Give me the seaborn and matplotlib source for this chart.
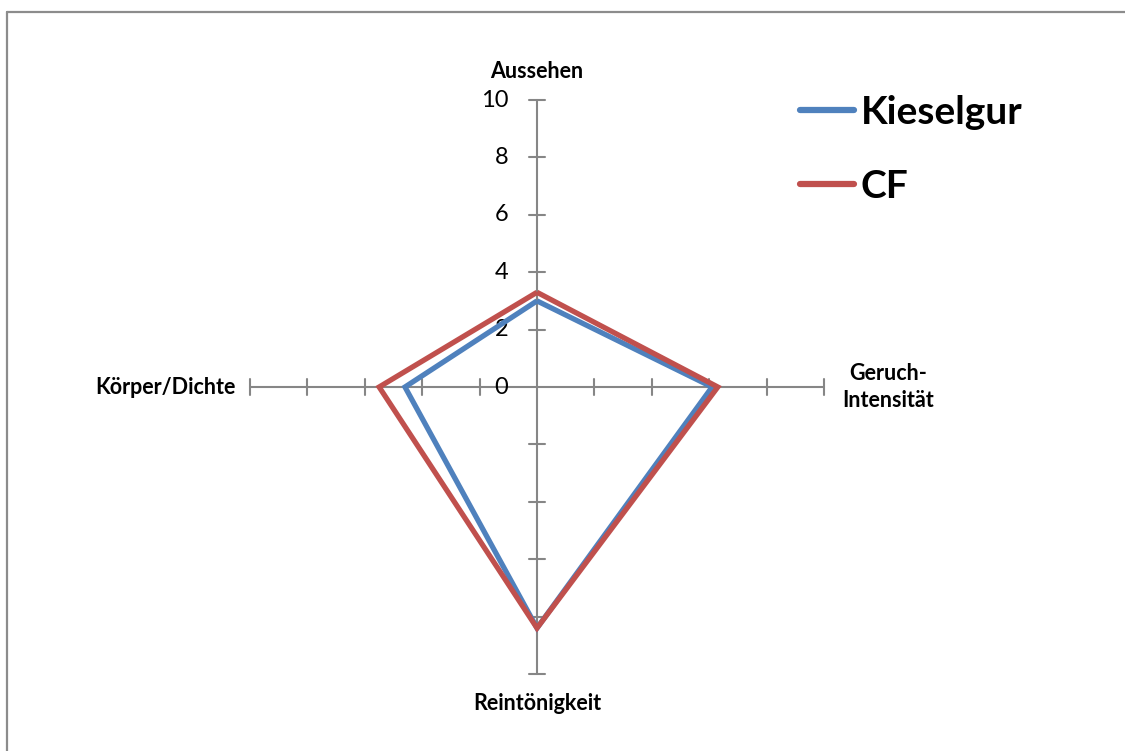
import numpy as np
import pandas as pd
import matplotlib
matplotlib.use("Agg")
import matplotlib.pyplot as plt
from matplotlib.lines import Line2D
import seaborn as sns

# ---- data ----
categories = ["Aussehen", "Geruch-\nIntensität", "Reintönigkeit", "Körper/Dichte"]
series_names = ["Kieselgur", "CF"]
kieselgur = [3.0, 6.1, 8.4, 4.6]
cf = [3.3, 6.3, 8.4, 5.5]
tick_values = [0, 2, 4, 6, 8, 10]
colors = {"Kieselgur": "#4F81BD", "CF": "#C0504D"}

sns.set_theme(style="white")
plt.rcParams["font.family"] = ["Lato", "DejaVu Sans"]
plt.rcParams["text.color"] = "black"

W, H = 1125, 751
fig = plt.figure(figsize=(W / 100, H / 100), dpi=100)
ax = fig.add_axes([0, 0, 1, 1])
ppu = 28.7  # pixels per unit
cx, cy = 537, 387
ax.set_xlim(-cx / ppu, (W - cx) / ppu)
ax.set_ylim(-(H - cy) / ppu, cy / ppu)
ax.set_axis_off()

# angles: clockwise from top
angles = np.deg2rad([90, 0, -90, 180])
rmax = 10

# spokes and ticks
axis_col = "#868686"
for a in angles:
    ax.plot([0, rmax * np.cos(a)], [0, rmax * np.sin(a)], color=axis_col, lw=1.5, zorder=1)
    px, py = -np.sin(a), np.cos(a)
    for t in tick_values[1:]:
        tx, ty = t * np.cos(a), t * np.sin(a)
        h = 0.29
        ax.plot([tx - h * px, tx + h * px], [ty - h * py, ty + h * py], color=axis_col, lw=1.5, zorder=1)

# tick labels on the vertical axis
for t in tick_values:
    ax.text(-1.0, t, str(t), ha="right", va="center", fontsize=17, color="black")

# polygons
rows = []
for name, vals in zip(series_names, [kieselgur, cf]):
    for i in list(range(len(vals))) + [0]:
        rows.append({"series": name,
                     "x": vals[i] * np.cos(angles[i]), "y": vals[i] * np.sin(angles[i])})
df = pd.DataFrame(rows)
sns.lineplot(data=df, x="x", y="y", hue="series", palette=colors, sort=False,
             estimator=None, units="series", linewidth=3.8, ax=ax, zorder=3, legend=False)
for ln in ax.lines[-2:]:
    ln.set_solid_joinstyle("miter")
    ln.set_solid_capstyle("butt")

# category labels
lab_kw = dict(fontsize=15.5, fontweight="bold", color="black")
ax.text(0, (387 - 71) / ppu, categories[0], ha="center", va="center", **lab_kw)
ax.text((888 - cx) / ppu, 0, categories[1], ha="center", va="center", linespacing=1.3, **lab_kw)
ax.text(0, -(703 - cy) / ppu, categories[2], ha="center", va="center", **lab_kw)
ax.text((236 - cx) / ppu, 0, categories[3], ha="right", va="center", **lab_kw)

# legend
handles = [Line2D([], [], color=colors[n], lw=4.5, solid_capstyle="round") for n in series_names]
leg = ax.legend(handles, series_names, loc="upper left", frameon=False,
                bbox_to_anchor=(800 / W, 1 - 95 / H), bbox_transform=fig.transFigure,
                borderpad=0, borderaxespad=0, handlelength=1.4, handletextpad=0.16,
                labelspacing=1.0, prop={"family": "Lato", "weight": "bold", "size": 28})
for txt in leg.get_texts():
    txt.set_color("black")

# partial outer border (left and top)
bcol = "#8c8c8c"
fig.add_artist(Line2D([7 / W, 7 / W], [0, 1 - 12 / H], color=bcol, lw=1.6, transform=fig.transFigure))
fig.add_artist(Line2D([7 / W, 1], [1 - 12 / H, 1 - 12 / H], color=bcol, lw=1.6, transform=fig.transFigure))

fig.savefig("out.png", dpi=100)
